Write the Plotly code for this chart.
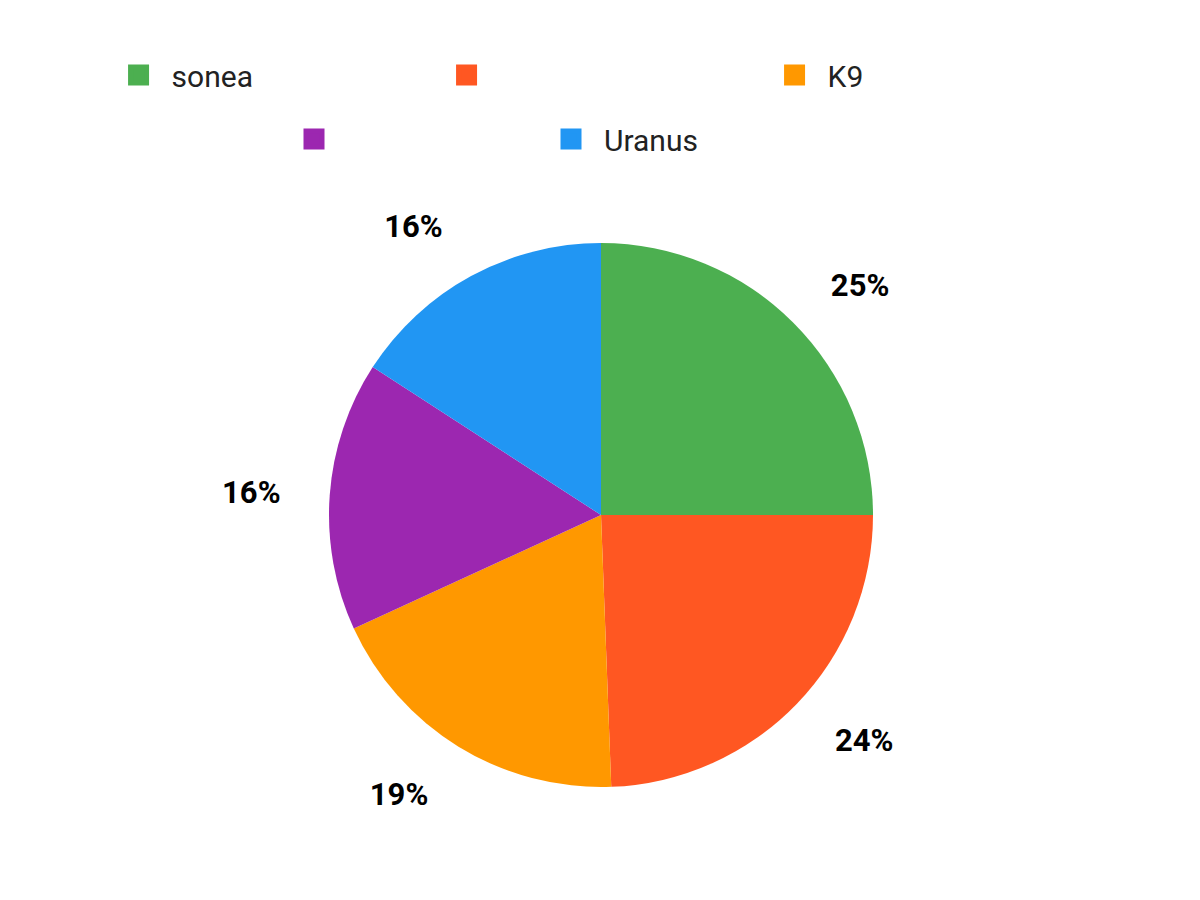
import plotly.graph_objects as go

# data
labels = ["sonea", "", "K9", "", "Uranus"]
values = [25.0, 24.4, 18.75, 16.0, 15.85]
colors = ["#4CAF50", "#FF5722", "#FF9800", "#9C27B0", "#2196F3"]

fig = go.Figure()

# legend entries (row 1 -> legend, row 2 -> legend2)
for i, (lab, col) in enumerate(zip(labels, colors)):
    fig.add_trace(go.Scatter(
        x=[None], y=[None], mode="markers", name=lab, showlegend=True,
        legend="legend" if i < 3 else "legend2",
        marker=dict(symbol="square", size=30, color=col, line=dict(color=col, width=5)),
    ))

# the pie itself (centre ~ (593, 507) px in the plot div)
fig.add_trace(go.Pie(
    values=values, sort=False, direction="clockwise", rotation=0,
    marker=dict(colors=colors, line=dict(width=0)),
    textinfo="none", showlegend=False,
    domain=dict(x=[321/1200, 865/1200], y=[1-779/900, 1-235/900]),
))

# slightly larger transparent pie that carries the percentage labels outside
fig.add_trace(go.Pie(
    values=values, sort=False, direction="clockwise", rotation=0,
    marker=dict(colors=["rgba(0,0,0,0)"]*len(values), line=dict(width=0)),
    texttemplate="%{percent:.0%}", textposition="outside",
    textfont=dict(family="Roboto", size=31, color="#000", weight="bold"),
    showlegend=False, hoverinfo="skip",
    domain=dict(x=[281/1200, 905/1200], y=[1-819/900, 1-195/900]),
))

legend_font = dict(family="Roboto", size=30, color="#222")
fig.update_layout(
    width=1200, height=900,
    margin=dict(l=0, r=0, t=0, b=0),
    paper_bgcolor="white", plot_bgcolor="white",
    xaxis=dict(visible=False), yaxis=dict(visible=False),
    legend=dict(orientation="h", x=0.0813, xanchor="left", y=1-67/900, yanchor="middle",
                font=legend_font, itemwidth=56, entrywidth=257, entrywidthmode="pixels",
                bgcolor="rgba(0,0,0,0)"),
    legend2=dict(orientation="h", x=0.2275, xanchor="left", y=1-131/900, yanchor="middle",
                 font=legend_font, itemwidth=56, entrywidth=186, entrywidthmode="pixels",
                 bgcolor="rgba(0,0,0,0)"),
)

fig.write_html("out.html")
